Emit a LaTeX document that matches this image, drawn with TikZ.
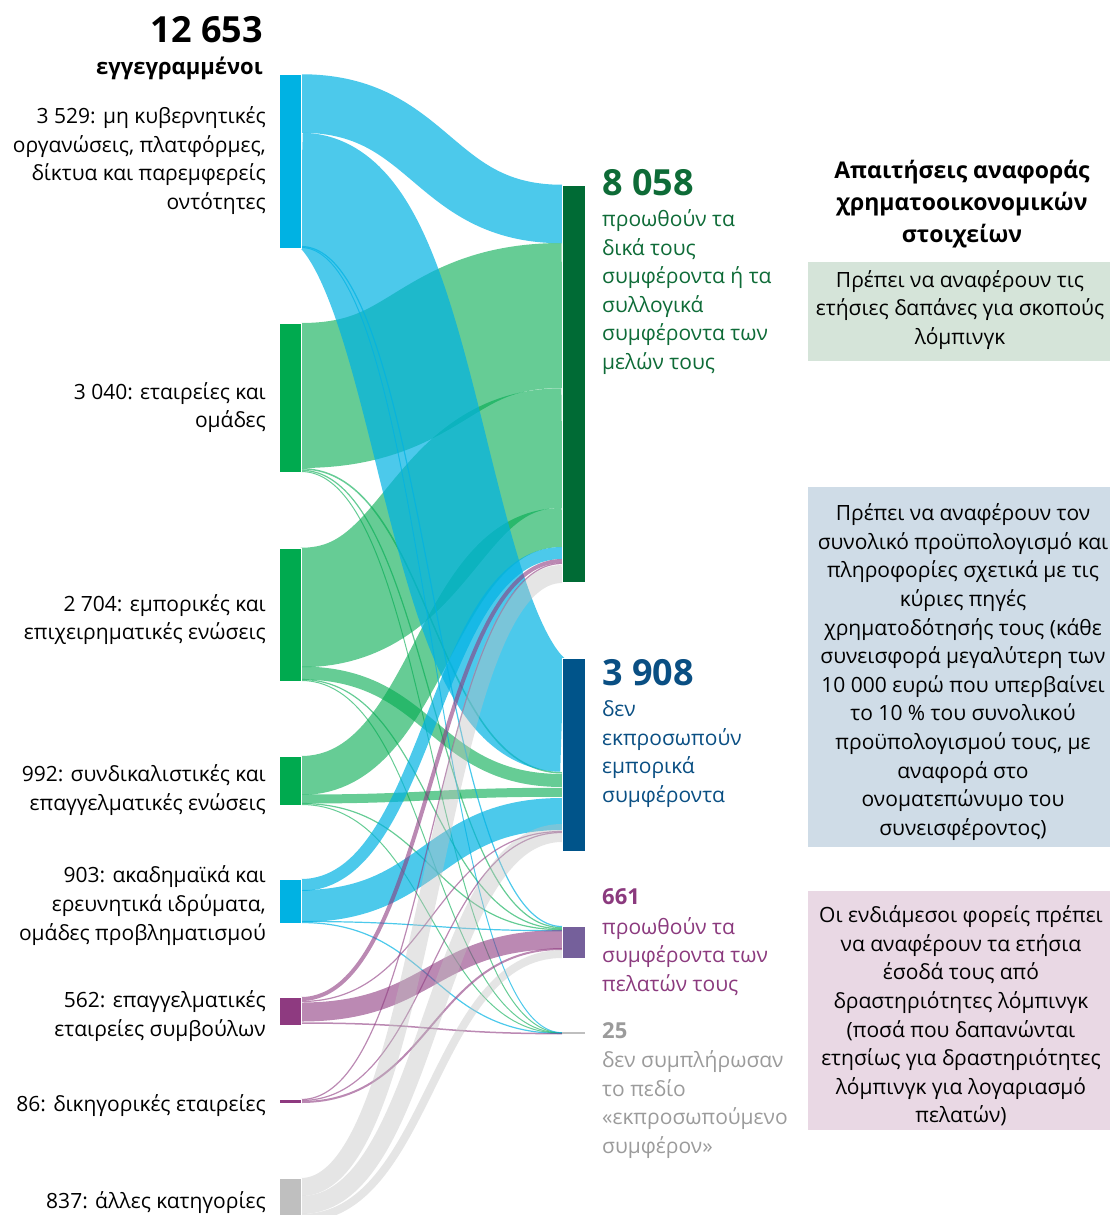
\documentclass[tikz,border=0pt]{standalone}
\usepackage{fontspec}
\setmainfont{Open Sans}
\definecolor{cy}{HTML}{00B2E3}
\definecolor{gr}{HTML}{00AA4F}
\definecolor{pu}{HTML}{8E3A80}
\definecolor{gy}{HTML}{BFBFBF}
\definecolor{tA}{HTML}{006B35}
\definecolor{tB}{HTML}{00548A}
\definecolor{tC}{HTML}{75609B}
\definecolor{txA}{HTML}{0E6B37}
\definecolor{txB}{HTML}{0A4F83}
\definecolor{txC}{HTML}{8B3A7E}
\definecolor{txD}{HTML}{9B9B9B}
\definecolor{bx1}{HTML}{D5E4D9}
\definecolor{bx2}{HTML}{CFDCE7}
\definecolor{bx3}{HTML}{E9D8E4}
\pgfdeclarelayer{bg}
\pgfsetlayers{bg,main}
\newcommand\flw[7]{%
  \draw[#1, draw opacity=#2, line width=#3pt]
    ([yshift=-#5pt]#4.north east) .. controls +(130.5,0) and +(-130.5,0) .. ([yshift=-#7pt]#6.north west);}
\begin{document}
\begin{tikzpicture}[x=1pt,y=-1pt,
  bar/.style={rectangle, inner sep=0pt, outer sep=0pt, draw=white, line width=0.8pt},
  lbar/.style={bar, minimum width=22pt},
  rbar/.style={bar, minimum width=23pt},
  lbl/.style={inner sep=0pt, yshift=-2pt, font=\fontsize{21}{28.6}\selectfont},
  big/.style={inner sep=0pt, font=\fontsize{36}{40}\selectfont\bfseries},
  mid/.style={inner sep=0pt, font=\fontsize{22}{28}\selectfont\bfseries},
  box/.style={rectangle, inner sep=0pt, outer sep=0pt, minimum width=302pt}
]
\useasboundingbox (0,0) rectangle (1110,1215);

% ---- source nodes ----
\node[lbar, fill=cy, minimum height=174pt] (ngo)  at (290,161) {};
\node[lbar, fill=gr, minimum height=149pt] (comp) at (290,397.5) {};
\node[lbar, fill=gr, minimum height=133pt] (ta)   at (290,614.5) {};
\node[lbar, fill=gr, minimum height=49pt]  (tu)   at (290,780.5) {};
\node[lbar, fill=cy, minimum height=44pt]  (acad) at (290,901) {};
\node[lbar, fill=pu, minimum height=28pt]  (cons) at (290,1011) {};
\node[lbar, fill=pu, minimum height=4pt]   (law)  at (290,1101) {};
\node[lbar, fill=gy, minimum height=44pt]  (oth)  at (290,1200) {};

% ---- target nodes ----
\node[rbar, fill=tA, minimum height=397pt] (A) at (573.5,383.5) {};
\node[rbar, fill=tB, minimum height=193pt] (B) at (573.5,754.5) {};
\node[rbar, fill=tC, minimum height=32pt]  (C) at (573.5,942) {};
\node[rectangle, inner sep=0pt, outer sep=0pt, fill=gy, minimum width=23pt, minimum height=1.5pt] (D) at (573.5,1033.2) {};

% ---- flows ----
\begin{pgfonlayer}{bg}
% green
\flw{gr}{0.6}{145}{comp}{72.5}{A}{130.5}
\flw{gr}{0.6}{1.5}{comp}{145.75}{B}{114.75}
\flw{gr}{0.6}{1.2}{comp}{147.25}{C}{1.6}
\flw{gr}{0.6}{1}{comp}{148.5}{D}{0.4}
\flw{gr}{0.6}{119.5}{ta}{59.5}{A}{263}
\flw{gr}{0.6}{13}{ta}{125}{B}{122.5}
\flw{gr}{0.6}{1.2}{ta}{131.5}{C}{2.7}
\flw{gr}{0.6}{1}{ta}{132.5}{D}{0.6}
\flw{gr}{0.6}{39}{tu}{19.5}{A}{342.5}
\flw{gr}{0.6}{9}{tu}{43}{B}{134.25}
\flw{gr}{0.6}{1.2}{tu}{47.5}{C}{3.7}
\flw{gr}{0.6}{1}{tu}{48.5}{D}{0.8}
% cyan
\flw{cy}{0.7}{58.5}{ngo}{29.5}{A}{29}
\flw{cy}{0.7}{113.5}{ngo}{115.5}{B}{57}
\flw{cy}{0.7}{1.2}{ngo}{172.5}{C}{0.5}
\flw{cy}{0.7}{1}{ngo}{173.5}{D}{0.2}
\flw{cy}{0.7}{12}{acad}{6}{A}{368}
\flw{cy}{0.7}{32}{acad}{27}{B}{156}
\flw{cy}{0.7}{1.2}{acad}{42.5}{C}{4.7}
\flw{cy}{0.7}{1.2}{acad}{43.5}{D}{1.0}
% purple
\flw{pu}{0.6}{4}{cons}{2}{A}{376}
\flw{pu}{0.6}{1.2}{cons}{4.5}{B}{173.5}
\flw{pu}{0.6}{19}{cons}{15}{C}{13.6}
\flw{pu}{0.6}{1.5}{cons}{26}{D}{1.2}
\flw{pu}{0.6}{1.2}{law}{0.5}{A}{378.5}
\flw{pu}{0.6}{1.2}{law}{1.5}{B}{174.5}
\flw{pu}{0.6}{2}{law}{3}{C}{23}
% grey
\flw{gy}{0.4}{18}{oth}{9}{A}{389}
\flw{gy}{0.4}{18}{oth}{27}{B}{175}
\flw{gy}{0.4}{8}{oth}{40}{C}{28}
\end{pgfonlayer}

% ---- left labels ----
\node[big, anchor=east] (total) at (263,30) {12 653};
\node[mid, anchor=east] (totl) at (263,68) {εγγεγραμμένοι};
\node[lbl, anchor=east, align=right] (l1) at (266,158.5) {3 529: μη κυβερνητικές\\οργανώσεις, πλατφόρμες,\\δίκτυα και παρεμφερείς\\οντότητες};
\node[lbl, anchor=east, align=right] (l2) at (266,405.5) {3 040: εταιρείες και\\ομάδες};
\node[lbl, anchor=east, align=right] (l3) at (266,617.5) {2 704: εμπορικές και\\επιχειρηματικές ενώσεις};
\node[lbl, anchor=east, align=right] (l4) at (266,788) {992: συνδικαλιστικές και\\επαγγελματικές ενώσεις};
\node[lbl, anchor=east, align=right] (l5) at (266,903.5) {903: ακαδημαϊκά και\\ερευνητικά ιδρύματα,\\ομάδες προβληματισμού};
\node[lbl, anchor=east, align=right] (l6) at (266,1014) {562: επαγγελματικές\\εταιρείες συμβούλων};
\node[lbl, anchor=east, align=right] (l7) at (266,1104) {86: δικηγορικές εταιρείες};
\node[lbl, anchor=east, align=right] (l8) at (266,1201) {837: άλλες κατηγορίες};

% ---- right labels ----
\node[big, anchor=west, text=txA] (nA) at (602,183) {8 058};
\node[lbl, anchor=west, align=left, text=txA] (dA) at (602,290) {προωθούν τα\\δικά τους\\συμφέροντα ή τα\\συλλογικά\\συμφέροντα των\\μελών τους};
\node[big, anchor=west, text=txB] (nB) at (602,673) {3 908};
\node[lbl, anchor=west, align=left, text=txB] (dB) at (602,752) {δεν\\εκπροσωπούν\\εμπορικά\\συμφέροντα};
\node[mid, anchor=west, text=txC] (nC) at (602,897) {661};
\node[lbl, anchor=west, align=left, text=txC] (dC) at (602,954.5) {προωθούν τα\\συμφέροντα των\\πελατών τους};
\node[mid, anchor=west, text=txD] (nD) at (602,1031) {25};
\node[lbl, anchor=west, align=left, text=txD] (dD) at (602,1102.5) {δεν συμπλήρωσαν\\το πεδίο\\«εκπροσωπούμενο\\συμφέρον»};

% ---- right column ----
\node[inner sep=0pt, align=center, font=\fontsize{23}{32}\selectfont\bfseries] (title) at (962,204) {Απαιτήσεις αναφοράς\\χρηματοοικονομικών\\στοιχείων};
\node[box, fill=bx1, minimum height=99pt] (b1) at (959,311.5) {};
\node[box, fill=bx2, minimum height=360pt] (b2) at (959,667) {};
\node[box, fill=bx3, minimum height=239pt] (b3) at (959,1010.5) {};
\node[lbl, align=center] (t1) at (960,308) {Πρέπει να αναφέρουν τις\\ετήσιες δαπάνες για σκοπούς\\λόμπινγκ};
\node[lbl, align=center] (t2) at (963,670) {Πρέπει να αναφέρουν τον\\συνολικό προϋπολογισμό και\\πληροφορίες σχετικά με τις\\κύριες πηγές\\χρηματοδότησής τους (κάθε\\συνεισφορά μεγαλύτερη των\\10 000 ευρώ που υπερβαίνει\\το 10 \% του συνολικού\\προϋπολογισμού τους, με\\αναφορά στο\\ονοματεπώνυμο του\\συνεισφέροντος)};
\node[lbl, align=center] (t3) at (961,1014) {Οι ενδιάμεσοι φορείς πρέπει\\να αναφέρουν τα ετήσια\\έσοδά τους από\\δραστηριότητες λόμπινγκ\\(ποσά που δαπανώνται\\ετησίως για δραστηριότητες\\λόμπινγκ για λογαριασμό\\πελατών)};
\end{tikzpicture}
\end{document}
